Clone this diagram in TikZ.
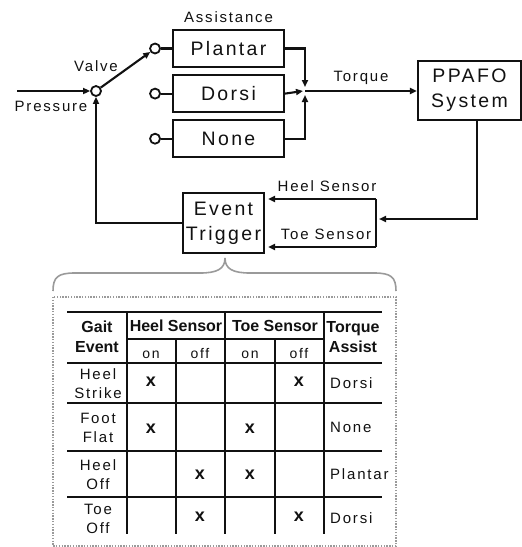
\documentclass[tikz,border=0pt]{standalone}
\usepackage{fontspec}
\setmainfont{Liberation Sans}
\newfontfamily\widefont[LetterSpace=12]{Liberation Sans}
\usetikzlibrary{arrows.meta,positioning,calc}
\definecolor{ink}{HTML}{111111}
\definecolor{bracegray}{HTML}{9A9A9A}
\tikzset{
  every node/.style={font=\widefont},
  blk/.style={draw=ink, line width=2.1pt, minimum width=111pt, minimum height=37pt,
              font=\widefont\fontsize{19.5}{22}\selectfont, inner sep=0pt, text=ink},
  bigblk/.style={blk, align=center, font=\widefont\fontsize{19.5}{25}\selectfont},
  port/.style={circle, draw=ink, line width=1.8pt, minimum size=10pt, inner sep=0pt, fill=white},
  arr/.style={-{Triangle[length=7pt, width=6pt]}, line width=2.1pt, draw=ink},
  wire/.style={line width=2.1pt, draw=ink},
  lbl/.style={font=\widefont\fontsize{15}{17}\selectfont, text=ink, inner sep=0pt},
  hdr/.style={font=\bfseries\fontsize{16}{20}\selectfont, align=center, inner sep=0pt, text=ink},
  cell/.style={font=\widefont\fontsize{15}{19}\selectfont, align=center, inner sep=0pt, text=ink},
  subcell/.style={font=\widefont\fontsize{14}{16}\selectfont, inner sep=0pt, anchor=base, text=ink},
  xmark/.style={font=\bfseries\fontsize{18}{18}\selectfont, inner sep=0pt, text=ink},
  rule/.style={line width=2.1pt, draw=ink},
  panel/.style={draw=bracegray, line width=1.4pt, dash pattern=on 1.4pt off 1.4pt},
}

\begin{document}
\begin{tikzpicture}[x=1pt, y=-1pt]
\useasboundingbox (0,0) rectangle (522,547);

% assistance selector
\node[port] (valve) at (96,91) {};
\coordinate (src) at (17,91);
\node[lbl] (press) at (51,106) {Pressure};
\node[lbl] (vlbl) at (96,66) {Valve};

\node[blk] (plantar) at (228.5,48.5) {Plantar};
\node[blk, below=6pt of plantar] (dorsi) {Dorsi};
\node[blk, below=6pt of dorsi] (none) {None};
\node[lbl, above=6.5pt of plantar] (assist) {Assistance};

\node[port, left=11pt of plantar] (pPl) {};
\node[port, left=11pt of dorsi] (pDo) {};
\node[port, left=11pt of none] (pNo) {};
\foreach \p/\b in {pPl/plantar, pDo/dorsi, pNo/none}
  \draw[wire] (\p) -- (\b);

\draw[arr] (src) -- (valve.west);
\draw[arr] (valve) -- (pPl);

\coordinate (jn) at (305,91);
\node[bigblk, minimum width=103pt, minimum height=59pt] (ppafo) at (469.5,90.5) {PPAFO\\System};
\draw[arr] (plantar.east) -| ([yshift=4pt]jn);
\draw[arr] (dorsi.east) -- ([xshift=-2pt]jn);
\draw[arr] (none.east) -| ([yshift=-4pt]jn);
\draw[arr] (jn) -- node[lbl, above=5pt]{Torque} (jn -| ppafo.west);

% feedback loop
\node[bigblk, minimum width=81pt, minimum height=60pt] (trig) at (223.5,223) {Event\\Trigger};
\coordinate (heelR) at (376,199);
\coordinate (toeR) at (376,247);
\coordinate (busin) at (379,219);
\draw[wire] (heelR) -- (toeR);
\draw[arr] (heelR) -- node[lbl, above=6pt, xshift=5pt]{Heel Sensor} ($(heelR -| trig.east)+(3,0)$);
\draw[arr] (toeR) -- node[lbl, above=6pt, xshift=4pt]{Toe Sensor} ($(toeR -| trig.east)+(3,0)$);
\draw[arr] ([xshift=7.5pt]ppafo.south) |- (busin);
\draw[arr] (trig.west) -| (valve.south);

% brace and event table
\draw[bracegray, line width=1.6pt] (53,291) .. controls (53,277) and (58,273) .. (75,273)
  -- (200,273) .. controls (217,273) and (225,269) .. (225,258)
  .. controls (225,269) and (233,273) .. (250,273) -- (374,273)
  .. controls (391,273) and (396,277) .. (396,291);
\draw[panel] (53,297) rectangle (396,546);

\foreach \y in {312,363,403,451,497}
  \draw[rule] (67,\y) -- (382,\y);
\draw[rule] (127,339) -- (324,339);
\foreach \x in {127,225,324}
  \draw[rule] (\x,312) -- (\x,534);
\foreach \x in {176,275}
  \draw[rule] (\x,339) -- (\x,534);

\node[hdr] (hGait) at (97,337) {Gait\\Event};
\node[hdr] (hHeel) at (176,326) {Heel Sensor};
\node[hdr] (hToe) at (275,326) {Toe Sensor};
\node[hdr] (hTq) at (353,337) {Torque\\Assist};
\foreach \x/\t [count=\i] in {151/on, 200/off, 250/on, 299/off}
  \node[subcell] (sub\i) at (\x,358) {\t};

\foreach \y/\ev/\as [count=\i] in {384/Heel\\Strike/Dorsi, 428/Foot\\Flat/None,
                                   475/Heel\\Off/Plantar, 519/Toe\\Off/Dorsi} {
  \node[cell] (ev\i) at (98,\y) {\ev};
  \node[cell, anchor=west] (as\i) at (330,\y-1) {\as};
}
\foreach \x/\y [count=\i] in {151/382, 299/382, 151/429, 250/429,
                              200/475, 250/475, 200/517, 299/517}
  \node[xmark] (x\i) at (\x,\y) {x};

\end{tikzpicture}
\end{document}
